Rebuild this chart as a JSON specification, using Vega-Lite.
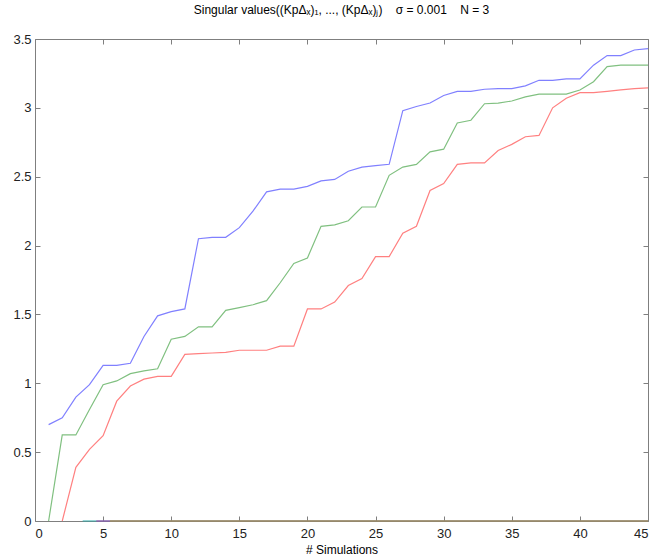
{
  "$schema": "https://vega.github.io/schema/vega-lite/v6.json",
  "width": 613,
  "height": 482,
  "autosize": {"type": "none"},
  "padding": {"left": 35, "top": 39, "right": 6, "bottom": 37},
  "background": "white",
  "title": {
    "text": "Singular values((KpΔₓ)₁, ..., (KpΔₓ)ⱼ)\u00a0\u00a0\u00a0\u00a0σ = 0.001\u00a0\u00a0\u00a0\u00a0N = 3",
    "font": "Liberation Sans",
    "fontSize": 12,
    "fontWeight": "normal",
    "color": "#000000",
    "anchor": "middle",
    "baseline": "alphabetic",
    "offset": 20,
    "dy": 13
  },
  "config": {
    "view": {"stroke": null},
    "axis": {
      "grid": false,
      "zindex": 0,
      "domainColor": "#7f7f7f",
      "tickColor": "#7f7f7f",
      "labelFont": "Liberation Sans",
      "labelFontSize": 13,
      "labelColor": "#222222",
      "titleFont": "Liberation Sans",
      "titleFontSize": 12,
      "titleFontWeight": "normal",
      "titleColor": "#000000"
    }
  },
  "data": {
    "values": [
      {"x": 1, "y": 0.70, "s": "1"}, {"x": 2, "y": 0.75, "s": "1"}, {"x": 3, "y": 0.90, "s": "1"}, {"x": 4, "y": 0.99, "s": "1"}, {"x": 5, "y": 1.13, "s": "1"},
      {"x": 6, "y": 1.13, "s": "1"}, {"x": 7, "y": 1.145, "s": "1"}, {"x": 8, "y": 1.34, "s": "1"}, {"x": 9, "y": 1.49, "s": "1"}, {"x": 10, "y": 1.52, "s": "1"},
      {"x": 11, "y": 1.54, "s": "1"}, {"x": 12, "y": 2.05, "s": "1"}, {"x": 13, "y": 2.06, "s": "1"}, {"x": 14, "y": 2.06, "s": "1"}, {"x": 15, "y": 2.13, "s": "1"},
      {"x": 16, "y": 2.25, "s": "1"}, {"x": 17, "y": 2.39, "s": "1"}, {"x": 18, "y": 2.41, "s": "1"}, {"x": 19, "y": 2.41, "s": "1"}, {"x": 20, "y": 2.43, "s": "1"},
      {"x": 21, "y": 2.47, "s": "1"}, {"x": 22, "y": 2.48, "s": "1"}, {"x": 23, "y": 2.54, "s": "1"}, {"x": 24, "y": 2.57, "s": "1"}, {"x": 25, "y": 2.58, "s": "1"},
      {"x": 26, "y": 2.59, "s": "1"}, {"x": 27, "y": 2.98, "s": "1"}, {"x": 28, "y": 3.01, "s": "1"}, {"x": 29, "y": 3.035, "s": "1"}, {"x": 30, "y": 3.09, "s": "1"},
      {"x": 31, "y": 3.12, "s": "1"}, {"x": 32, "y": 3.12, "s": "1"}, {"x": 33, "y": 3.135, "s": "1"}, {"x": 34, "y": 3.14, "s": "1"}, {"x": 35, "y": 3.14, "s": "1"},
      {"x": 36, "y": 3.16, "s": "1"}, {"x": 37, "y": 3.20, "s": "1"}, {"x": 38, "y": 3.20, "s": "1"}, {"x": 39, "y": 3.21, "s": "1"}, {"x": 40, "y": 3.21, "s": "1"},
      {"x": 41, "y": 3.31, "s": "1"}, {"x": 42, "y": 3.38, "s": "1"}, {"x": 43, "y": 3.38, "s": "1"}, {"x": 44, "y": 3.42, "s": "1"}, {"x": 45, "y": 3.43, "s": "1"},

      {"x": 1, "y": 0, "s": "2"}, {"x": 2, "y": 0.625, "s": "2"}, {"x": 3, "y": 0.625, "s": "2"}, {"x": 4, "y": 0.81, "s": "2"}, {"x": 5, "y": 0.99, "s": "2"},
      {"x": 6, "y": 1.017, "s": "2"}, {"x": 7, "y": 1.07, "s": "2"}, {"x": 8, "y": 1.09, "s": "2"}, {"x": 9, "y": 1.105, "s": "2"}, {"x": 10, "y": 1.32, "s": "2"},
      {"x": 11, "y": 1.34, "s": "2"}, {"x": 12, "y": 1.41, "s": "2"}, {"x": 13, "y": 1.41, "s": "2"}, {"x": 14, "y": 1.53, "s": "2"}, {"x": 15, "y": 1.55, "s": "2"},
      {"x": 16, "y": 1.57, "s": "2"}, {"x": 17, "y": 1.60, "s": "2"}, {"x": 18, "y": 1.73, "s": "2"}, {"x": 19, "y": 1.87, "s": "2"}, {"x": 20, "y": 1.91, "s": "2"},
      {"x": 21, "y": 2.14, "s": "2"}, {"x": 22, "y": 2.15, "s": "2"}, {"x": 23, "y": 2.18, "s": "2"}, {"x": 24, "y": 2.28, "s": "2"}, {"x": 25, "y": 2.28, "s": "2"},
      {"x": 26, "y": 2.51, "s": "2"}, {"x": 27, "y": 2.57, "s": "2"}, {"x": 28, "y": 2.59, "s": "2"}, {"x": 29, "y": 2.68, "s": "2"}, {"x": 30, "y": 2.70, "s": "2"},
      {"x": 31, "y": 2.89, "s": "2"}, {"x": 32, "y": 2.91, "s": "2"}, {"x": 33, "y": 3.03, "s": "2"}, {"x": 34, "y": 3.035, "s": "2"}, {"x": 35, "y": 3.05, "s": "2"},
      {"x": 36, "y": 3.08, "s": "2"}, {"x": 37, "y": 3.10, "s": "2"}, {"x": 38, "y": 3.10, "s": "2"}, {"x": 39, "y": 3.10, "s": "2"}, {"x": 40, "y": 3.13, "s": "2"},
      {"x": 41, "y": 3.19, "s": "2"}, {"x": 42, "y": 3.30, "s": "2"}, {"x": 43, "y": 3.31, "s": "2"}, {"x": 44, "y": 3.31, "s": "2"}, {"x": 45, "y": 3.31, "s": "2"},

      {"x": 2, "y": 0, "s": "3"}, {"x": 3, "y": 0.39, "s": "3"}, {"x": 4, "y": 0.52, "s": "3"}, {"x": 5, "y": 0.62, "s": "3"},
      {"x": 6, "y": 0.87, "s": "3"}, {"x": 7, "y": 0.98, "s": "3"}, {"x": 8, "y": 1.03, "s": "3"}, {"x": 9, "y": 1.05, "s": "3"}, {"x": 10, "y": 1.05, "s": "3"},
      {"x": 11, "y": 1.21, "s": "3"}, {"x": 12, "y": 1.215, "s": "3"}, {"x": 13, "y": 1.22, "s": "3"}, {"x": 14, "y": 1.225, "s": "3"}, {"x": 15, "y": 1.24, "s": "3"},
      {"x": 16, "y": 1.24, "s": "3"}, {"x": 17, "y": 1.24, "s": "3"}, {"x": 18, "y": 1.27, "s": "3"}, {"x": 19, "y": 1.27, "s": "3"}, {"x": 20, "y": 1.54, "s": "3"},
      {"x": 21, "y": 1.54, "s": "3"}, {"x": 22, "y": 1.59, "s": "3"}, {"x": 23, "y": 1.71, "s": "3"}, {"x": 24, "y": 1.76, "s": "3"}, {"x": 25, "y": 1.92, "s": "3"},
      {"x": 26, "y": 1.92, "s": "3"}, {"x": 27, "y": 2.09, "s": "3"}, {"x": 28, "y": 2.14, "s": "3"}, {"x": 29, "y": 2.40, "s": "3"}, {"x": 30, "y": 2.45, "s": "3"},
      {"x": 31, "y": 2.59, "s": "3"}, {"x": 32, "y": 2.60, "s": "3"}, {"x": 33, "y": 2.60, "s": "3"}, {"x": 34, "y": 2.69, "s": "3"}, {"x": 35, "y": 2.735, "s": "3"},
      {"x": 36, "y": 2.79, "s": "3"}, {"x": 37, "y": 2.80, "s": "3"}, {"x": 38, "y": 3.00, "s": "3"}, {"x": 39, "y": 3.07, "s": "3"}, {"x": 40, "y": 3.11, "s": "3"},
      {"x": 41, "y": 3.11, "s": "3"}, {"x": 42, "y": 3.12, "s": "3"}, {"x": 43, "y": 3.13, "s": "3"}, {"x": 44, "y": 3.14, "s": "3"}, {"x": 45, "y": 3.145, "s": "3"},

      {"x": 3.5, "y": 0, "s": "4"}, {"x": 45, "y": 0, "s": "4"},
      {"x": 4.5, "y": 0, "s": "5"}, {"x": 45, "y": 0, "s": "5"},
      {"x": 5.5, "y": 0, "s": "6"}, {"x": 45, "y": 0, "s": "6"}
    ]
  },
  "layer": [
    {
      "mark": {"type": "line", "opacity": 0},
      "encoding": {
        "x": {
          "field": "x", "type": "quantitative",
          "axis": {"orient": "top", "values": [0, 5, 10, 15, 20, 25, 30, 35, 40, 45], "tickSize": -5, "labels": false, "title": null}
        },
        "y": {
          "field": "y", "type": "quantitative",
          "axis": {"orient": "right", "values": [0, 0.5, 1, 1.5, 2, 2.5, 3, 3.5], "tickSize": -5, "labels": false, "title": null}
        }
      }
    },
    {
      "mark": {"type": "line", "strokeWidth": 1.2, "clip": false},
      "encoding": {
        "x": {
          "field": "x", "type": "quantitative",
          "scale": {"domain": [0, 45], "nice": false, "zero": false},
          "axis": {"orient": "bottom", "values": [0, 5, 10, 15, 20, 25, 30, 35, 40, 45], "tickSize": -5, "labelPadding": 11, "title": "# Simulations", "titlePadding": 4}
        },
        "y": {
          "field": "y", "type": "quantitative",
          "scale": {"domain": [0, 3.5], "nice": false},
          "axis": {"orient": "left", "values": [0, 0.5, 1, 1.5, 2, 2.5, 3, 3.5], "format": "~f", "tickSize": -5, "labelPadding": 9, "title": null}
        },
        "color": {
          "field": "s", "type": "nominal",
          "scale": {"domain": ["1", "2", "3", "4", "5", "6"], "range": ["#8080ff", "#80c080", "#ff8080", "#30a8a8", "#b040b0", "#a8a838"]},
          "legend": null
        }
      }
    }
  ],
  "resolve": {"axis": {"x": "independent", "y": "independent"}}
}
